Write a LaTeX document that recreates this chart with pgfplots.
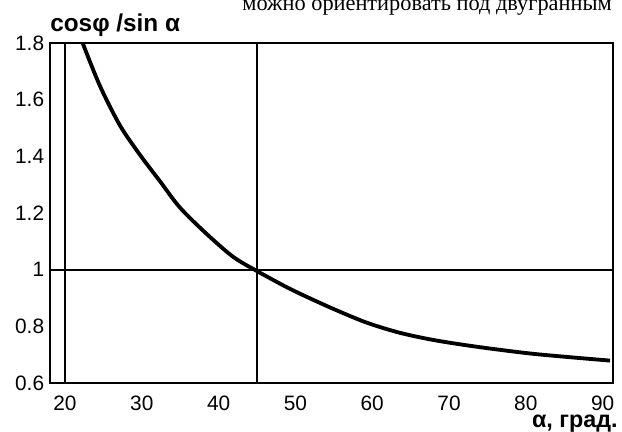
\documentclass[border=0pt]{standalone}
\usepackage{pgfplots}
\pgfplotsset{compat=1.18}
\usepackage{fontspec}
\setmainfont{Liberation Sans}
\newfontfamily\serifcyr{Liberation Serif}
\begin{document}
\begin{tikzpicture}
\begin{axis}[
  at={(30pt,29.4pt)}, anchor=south west,
  scale only axis,
  width=337.8pt, height=204pt,
  xmin=18.05, xmax=91.35,
  ymin=0.6, ymax=1.8,
  axis line style={line width=1.2pt},
  xtick={20,30,...,90},
  ytick={0.6,0.8,1.0,1.2,1.4,1.6,1.8},
  yticklabels={0.6,0.8,1,1.2,1.4,1.6,1.8},
  tick style={draw=none},
  /pgf/number format/assume math mode=true,
  tick label style={font=\fontsize{12.5}{14}\selectfont},
  xticklabel style={yshift=-4pt},
  clip=true,
]
% reference lines
\addplot[black, line width=1.2pt] coordinates {(20,0.6) (20,1.8)};
\addplot[black, line width=1.2pt] coordinates {(45,0.6) (45,1.8)};
\addplot[black, line width=1.2pt] coordinates {(18.05,1) (91.35,1)};
% curve
\addplot[black, line width=2.3pt, smooth, tension=0.5, line join=round] coordinates {
  (22.3,1.80) (24.56,1.648) (27.16,1.509) (29.77,1.405) (32.37,1.312)
  (34.97,1.219) (38.45,1.126) (41.91,1.045) (45.0,0.995) (48.87,0.938)
  (50.6,0.915) (54.9,0.862) (59.28,0.813) (63.62,0.777) (67.92,0.752)
  (72.3,0.733) (76.64,0.717) (80.94,0.703) (85.33,0.692) (90.96,0.679)
};
\end{axis}
\node[anchor=base west, font=\bfseries\fontsize{14.6}{17}\selectfont, inner sep=0pt]
  at (30pt,240pt) {cosφ /sin α};
\node[anchor=base east, font=\bfseries\fontsize{14}{16}\selectfont, inner sep=0pt]
  at (370.8pt,2.6pt) {α, град.};
\node[anchor=base east, font=\serifcyr\fontsize{13.4}{16}\selectfont, inner sep=0pt]
  at (367.2pt,252.6pt) {можно ориентировать под двугранным};
\pgfresetboundingbox
\useasboundingbox (0,0) rectangle (373.2pt,259.2pt);
\end{tikzpicture}
\end{document}
